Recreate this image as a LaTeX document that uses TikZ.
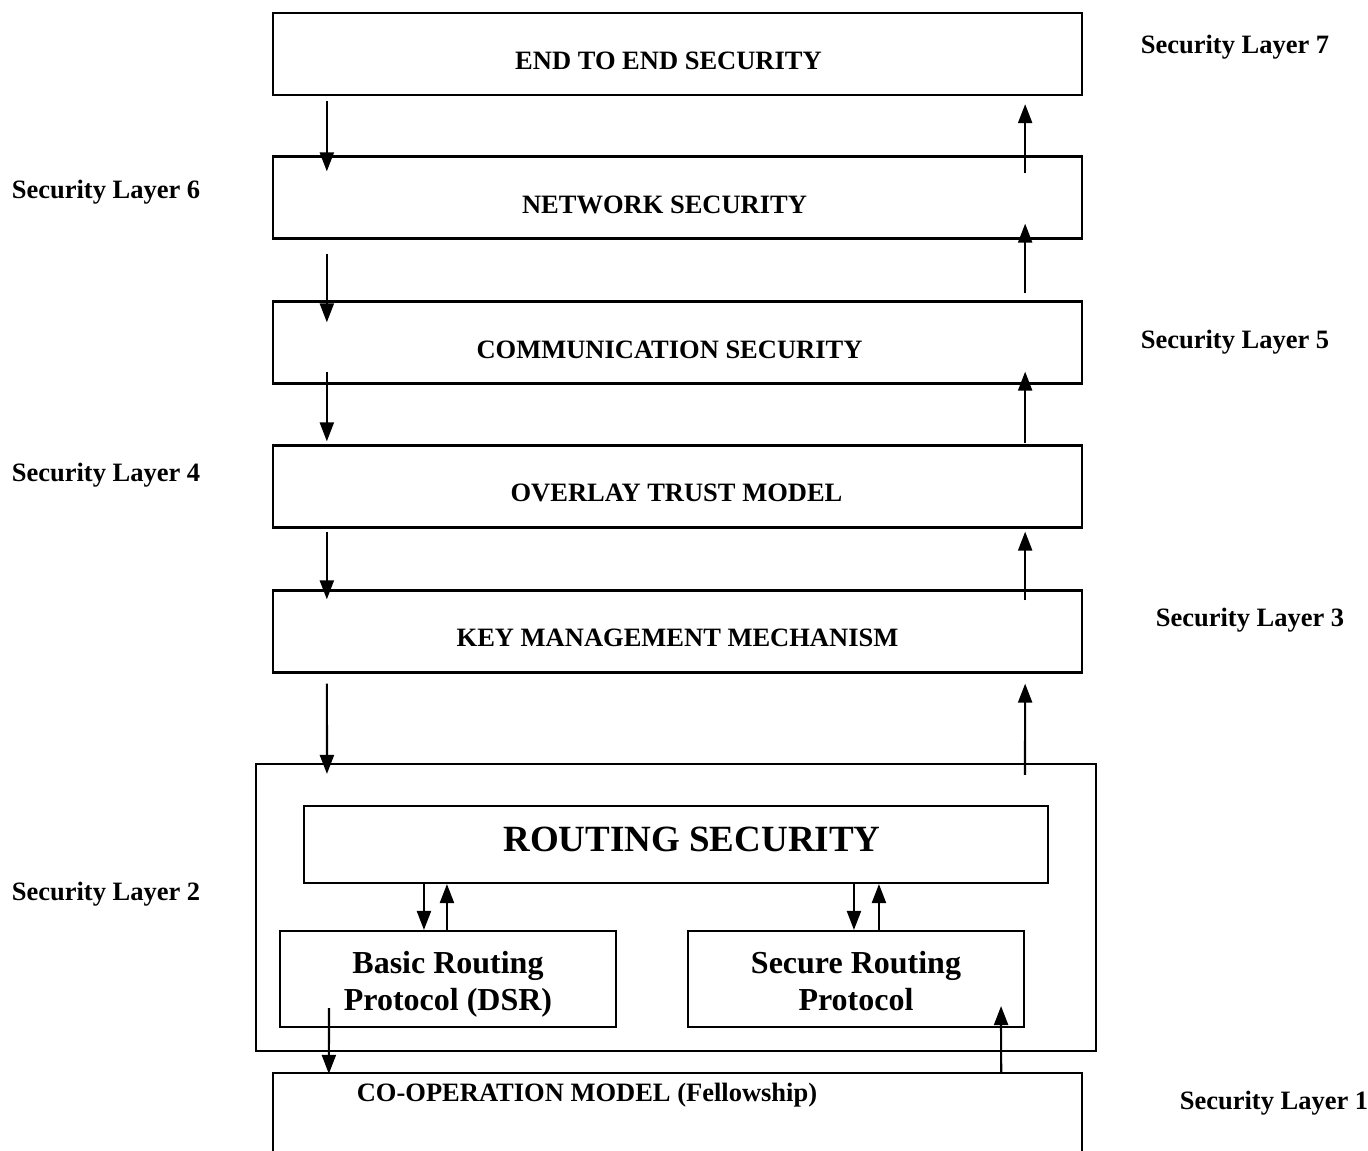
\documentclass[tikz,border=0pt]{standalone}
\usepackage{fontspec}
\setmainfont{Liberation Serif}
\usepackage{tikz}
\usetikzlibrary{positioning,arrows.meta}

\tikzset{
  layerbox/.style={draw, line width=2.3pt, minimum width=809pt, minimum height=82pt, inner sep=0pt},
  subbox/.style={draw, line width=2.1pt, minimum width=336pt, minimum height=96pt, inner sep=0pt},
  boxtext/.style={inner sep=0pt, align=center, font=\fontsize{26.5}{30}\selectfont\bfseries},
  subtext/.style={inner sep=0pt, align=center, font=\fontsize{32}{37}\selectfont\bfseries},
  sidelabel/.style={inner sep=0pt, font=\fontsize{26.5}{30}\selectfont\bfseries},
  arr/.style={line width=2.2pt, -{Triangle[length=19pt,width=14pt]}},
}

\begin{document}
\begin{tikzpicture}[x=1pt,y=1pt]
\useasboundingbox (0,0) rectangle (1368,1151);
% Layer boxes
\node[layerbox, label={[boxtext, shift={(-9pt,-7pt)}]center:END TO END SECURITY}] (e2e) at (677.5,1097) {};
\node[layerbox, label={[boxtext, shift={(-13pt,-7pt)}]center:NETWORK SECURITY}] (net) at (677.5,953.5) {};
\node[layerbox, label={[boxtext, shift={(-8pt,-7pt)}]center:COMMUNICATION SECURITY}] (comm) at (677.5,808.5) {};
\node[layerbox, label={[boxtext, shift={(-1pt,-6pt)}]center:OVERLAY TRUST MODEL}] (otm) at (677.5,664.5) {};
\node[layerbox, label={[boxtext, shift={(0pt,-6pt)}]center:KEY MANAGEMENT MECHANISM}] (kmm) at (677.5,519.5) {};
% Routing security block
\node[draw, line width=2.1pt, minimum width=840pt, minimum height=287pt, inner sep=0pt] (rout) at (676,243.5) {};
\node[subbox, minimum width=744pt, minimum height=77pt,
  label={[boxtext, font=\fontsize{37}{40}\selectfont\bfseries, shift={(16pt,5pt)}]center:ROUTING SECURITY}] (rsec) at (676,306.5) {};
\node[subbox, label={[subtext, shift={(0pt,-5pt)}]center:Basic Routing\\Protocol (DSR)}] (brp) at (448,172) {};
\node[subbox, label={[subtext, shift={(0pt,-2pt)}]center:Secure Routing\\Protocol}] (srp) at (856,172) {};
% Co-operation model
\node[layerbox, minimum height=100pt] (coop) at (677.5,28) {};
\node[sidelabel] (coopTxt) at (587,56) {CO-OPERATION MODEL (Fellowship)};

% Side labels
\node[sidelabel] (lay7) at (1235,1104) {Security Layer 7};
\node[sidelabel] (lay6) at (106,959) {Security Layer 6};
\node[sidelabel] (lay5) at (1235,809) {Security Layer 5};
\node[sidelabel] (lay4) at (106,676) {Security Layer 4};
\node[sidelabel] (lay3) at (1250,531) {Security Layer 3};
\node[sidelabel] (lay2) at (106,257) {Security Layer 2};
\node[sidelabel] (lay1) at (1274,48) {Security Layer 1};

% Down arrows
\draw[arr] ([shift={(55pt,-5pt)}]e2e.south west) -- ([shift={(55pt,-16pt)}]net.north west);
\draw[arr] ([shift={(55pt,-14pt)}]net.south west) -- ([shift={(55pt,-22pt)}]comm.north west);
\draw[arr] ([shift={(55pt,13pt)}]comm.south west) -- ([shift={(55pt,3pt)}]otm.north west);
\draw[arr] ([shift={(55pt,-3pt)}]otm.south west) -- ([shift={(55pt,-10pt)}]kmm.north west);
\draw[arr] ([shift={(55pt,-10pt)}]kmm.south west) -- ([shift={(72pt,-11pt)}]rout.north west);
\draw[arr] ([shift={(50pt,20pt)}]brp.south west) -- ([shift={(57pt,-2pt)}]coop.north west);

% Up arrows
\draw[arr] ([shift={(-58pt,-18pt)}]net.north east) -- ([shift={(-58pt,-8pt)}]e2e.south east);
\draw[arr] ([shift={(-58pt,7pt)}]comm.north east) -- ([shift={(-58pt,16pt)}]net.south east);
\draw[arr] ([shift={(-58pt,1pt)}]otm.north east) -- ([shift={(-58pt,13pt)}]comm.south east);
\draw[arr] ([shift={(-58pt,-11pt)}]kmm.north east) -- ([shift={(-58pt,-3pt)}]otm.south east);
\draw[arr] ([shift={(-72pt,-12pt)}]rout.north east) -- ([shift={(-58pt,-10pt)}]kmm.south east);
\draw[arr] ([shift={(-82pt,0pt)}]coop.north east) -- ([shift={(-24pt,22pt)}]srp.south east);

% Routing sub-arrows
\draw[arr] ([xshift=121pt]rsec.south west) -- ([xshift=145pt]brp.north west);
\draw[arr] ([xshift=168pt]brp.north west) -- ([xshift=144pt]rsec.south west);
\draw[arr] ([xshift=551pt]rsec.south west) -- ([xshift=167pt]srp.north west);
\draw[arr] ([xshift=192pt]srp.north west) -- ([xshift=576pt]rsec.south west);
\end{tikzpicture}
\end{document}
